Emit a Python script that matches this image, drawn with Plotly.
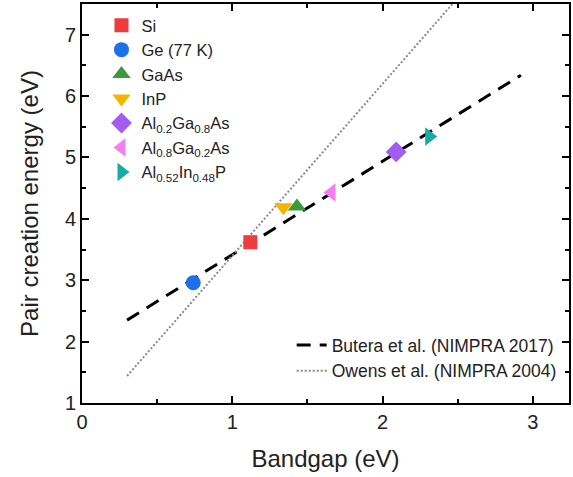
import plotly.graph_objects as go

# Data
materials = ["Si", "Ge (77 K)", "GaAs", "InP",
             "Al<sub>0.2</sub>Ga<sub>0.8</sub>As",
             "Al<sub>0.8</sub>Ga<sub>0.2</sub>As",
             "Al<sub>0.52</sub>In<sub>0.48</sub>P"]
bandgap = [1.12, 0.74, 1.43, 1.34, 2.09, 1.66, 2.31]
pair_energy = [3.62, 2.96, 4.20, 4.19, 5.09, 4.43, 5.34]
symbols = ["square", "circle", "triangle-up", "triangle-down", "diamond",
           "triangle-left", "triangle-right"]
colors = ["#EE3B3E", "#1E6FEA", "#3B9A3C", "#F6B400", "#A45BF2", "#F67EF2", "#17ABA2"]
sizes = [14, 15, 16, 16, 16, 16, 16]

butera_x = [0.3, 2.92]
butera_y = [2.35, 6.34]
owens_x = [0.3, 2.5]
owens_y = [1.44, 7.6]

font = "Arial, Liberation Sans, sans-serif"

fig = go.Figure()
fig.add_trace(go.Scatter(x=butera_x, y=butera_y, mode="lines",
                         name="Butera et al. (NIMPRA 2017)",
                         line=dict(color="black", width=3, dash="14px,9px"),
                         legend="legend2"))
fig.add_trace(go.Scatter(x=owens_x, y=owens_y, mode="lines",
                         name="Owens et al. (NIMPRA 2004)",
                         line=dict(color="#8a8a8a", width=2, dash="2px,2px"),
                         legend="legend2"))
for name, x, y, s, c, sz in zip(materials, bandgap, pair_energy, symbols, colors, sizes):
    fig.add_trace(go.Scatter(x=[x], y=[y], mode="markers", name=name,
                             marker=dict(symbol=s, color=c, size=sz, line=dict(width=0)),
                             legend="legend"))

axis_common = dict(showline=True, linecolor="black", linewidth=1.8, mirror="ticks",
                   ticks="inside", ticklen=7, tickwidth=1.8, tickcolor="black",
                   showgrid=False, zeroline=False,
                   tickfont=dict(family=font, size=20, color="#222"),
                   minor=dict(ticks="inside", ticklen=4, tickwidth=1.5, tickcolor="black",
                              dtick=0.5, showgrid=False))

fig.update_xaxes(range=[0, 3.24], dtick=1, tick0=0,
                 title=dict(text="Bandgap (eV)", font=dict(family=font, size=24, color="#222"),
                            standoff=18),
                 **axis_common)
fig.update_yaxes(range=[1, 7.5], dtick=1, tick0=1,
                 title=dict(text="Pair creation energy (eV)",
                            font=dict(family=font, size=24, color="#222"), standoff=20),
                 **axis_common)

fig.update_layout(
    width=573, height=477,
    margin=dict(l=82, r=2, t=4, b=74),
    plot_bgcolor="white", paper_bgcolor="white",
    font=dict(family=font, color="#222"),
    showlegend=True,
    legend=dict(x=0.04, y=0.99, xanchor="left", yanchor="top",
                bgcolor="rgba(0,0,0,0)", font=dict(family=font, size=16.5, color="#222"),
                tracegroupgap=0, itemsizing="trace"),
    legend2=dict(x=0.985, y=0.035, xanchor="right", yanchor="bottom",
                 bgcolor="rgba(0,0,0,0)", font=dict(family=font, size=17.5, color="#222")),
)

fig.write_html("out.html")
